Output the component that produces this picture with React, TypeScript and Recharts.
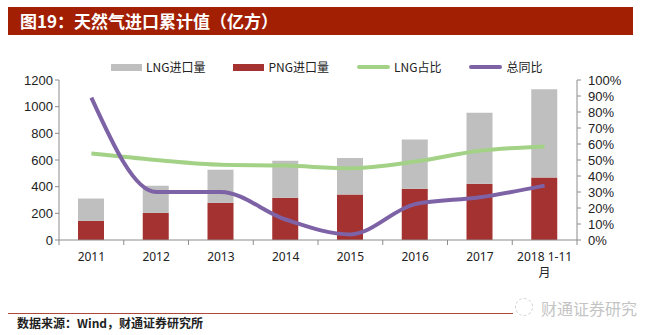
import { ComposedChart, Bar, Line, XAxis, YAxis, Legend } from "recharts";

// values (亿方 and %)
const categories = ["2011", "2012", "2013", "2014", "2015", "2016", "2017", "2018 1-11\n月"];
const lngImport = [168, 204, 248, 279, 274, 369, 532, 661];
const pngImport = [143, 203, 279, 316, 341, 384, 422, 469];
const lngShare = [54, 50, 47, 46.5, 44.8, 49, 55.8, 58.5];
const totalYoy = [89, 30, 30, 12.8, 3.5, 22.4, 26.7, 34];

const leftTicks = [0, 200, 400, 600, 800, 1000, 1200];
const rightTicks = [0, 10, 20, 30, 40, 50, 60, 70, 80, 90, 100];

const GREY = "#bfbfbf";
const RED = "#a33230";
const GREEN = "#a3d287";
const PURPLE = "#7d62a6";
const AXIS = "#8c8c8c";

const PLOT_LEFT = 59;
const PLOT_RIGHT = 577;
const BAND = (PLOT_RIGHT - PLOT_LEFT) / categories.length;

const data = categories.map((c, i) => ({
	name: c,
	lng: lngImport[i],
	png: pngImport[i],
	share: lngShare[i],
	yoy: totalYoy[i],
}));

const legendItems = [
	{ label: "LNG进口量", color: GREY, kind: "bar" },
	{ label: "PNG进口量", color: RED, kind: "bar" },
	{ label: "LNG占比", color: GREEN, kind: "line" },
	{ label: "总同比", color: PURPLE, kind: "line" },
];

function LegendContent() {
	return (
		<div style={{ display: "flex", alignItems: "center", gap: 28, height: 16 }}>
			{legendItems.map((it) => (
				<div key={it.label} style={{ display: "flex", alignItems: "center" }}>
					{it.kind === "bar" ? (
						<div style={{ width: 31, height: 7, background: it.color }} />
					) : (
						<div style={{ width: 33, height: 4, borderRadius: 2, background: it.color }} />
					)}
					<span
						style={{
							marginLeft: 4,
							fontSize: 12,
							lineHeight: "16px",
							color: "#222",
							fontFamily: '"Noto Sans CJK SC", "Noto Sans", sans-serif',
						}}
					>
						{it.label}
					</span>
				</div>
			))}
		</div>
	);
}

function CategoryTick(props: any) {
	const { x, y, payload, index } = props;
	const lines = String(payload.value).split("\n");
	const half = BAND / 2;
	return (
		<g>
			<line x1={x - half} x2={x - half} y1={y} y2={y + 5} stroke={AXIS} />
			{index === categories.length - 1 && (
				<line x1={x + half} x2={x + half} y1={y} y2={y + 5} stroke={AXIS} />
			)}
			{lines.map((l, i) => (
				<text
					key={i}
					x={x}
					y={y + 21 + i * 16}
					textAnchor="middle"
					fontSize={12}
					fill="#222"
					fontFamily='"Noto Sans", "Noto Sans CJK SC", sans-serif'
				>
					{l}
				</text>
			))}
		</g>
	);
}

export default function App() {
	return (
		<div
			style={{
				position: "absolute",
				left: 0,
				top: 0,
				width: 658,
				height: 335,
				background: "#fff",
				overflow: "hidden",
			}}
		>
			<div
				style={{
					position: "absolute",
					left: 8,
					top: 7,
					width: 625,
					height: 28,
					background: "#a21f03",
					color: "#fff",
					fontSize: 17,
					fontWeight: "bold",
					lineHeight: "28px",
					paddingLeft: 12,
					boxSizing: "border-box",
					fontFamily: '"Noto Sans CJK SC", sans-serif',
				}}
			>
				图19：天然气进口累计值（亿方）
			</div>

			<div style={{ position: "absolute", left: 0, top: 0 }}>
				<ComposedChart
					width={658}
					height={300}
					data={data}
					margin={{ top: 80, right: 31, bottom: 20, left: 0 }}
					barSize={26}
				>
					<XAxis
						dataKey="name"
						axisLine={{ stroke: AXIS }}
						tickLine={false}
						tickSize={0}
						tickMargin={0}
						height={40}
						interval={0}
						tick={<CategoryTick />}
					/>
					<YAxis
						yAxisId="left"
						domain={[0, 1200]}
						ticks={leftTicks}
						interval={0}
						width={59}
						axisLine={{ stroke: AXIS }}
						tickLine={{ stroke: AXIS }}
						tickSize={4}
						tickMargin={2}
						tick={{ fontSize: 13, fill: "#222", fontFamily: '"Liberation Sans", Arial, sans-serif' }}
					/>
					<YAxis
						yAxisId="right"
						orientation="right"
						domain={[0, 100]}
						ticks={rightTicks}
						interval={0}
						width={50}
						axisLine={{ stroke: AXIS }}
						tickLine={{ stroke: AXIS }}
						tickSize={4}
						tickMargin={7}
						tickFormatter={(v) => `${v}%`}
						tick={{ fontSize: 13, fill: "#222", fontFamily: '"Liberation Sans", Arial, sans-serif', textAnchor: "start" }}
					/>
					<Legend
						verticalAlign="top"
						content={<LegendContent />}
						wrapperStyle={{ top: 59, left: 111, width: "auto", height: 0, overflow: "visible" }}
					/>
					<Bar yAxisId="left" dataKey="png" stackId="a" fill={RED} isAnimationActive={false} />
					<Bar yAxisId="left" dataKey="lng" stackId="a" fill={GREY} isAnimationActive={false} />
					<Line
						yAxisId="right"
						type="monotone"
						dataKey="share"
						stroke={GREEN}
						strokeWidth={4}
						dot={false}
						isAnimationActive={false}
					/>
					<Line
						yAxisId="right"
						type="monotone"
						dataKey="yoy"
						stroke={PURPLE}
						strokeWidth={4}
						dot={false}
						isAnimationActive={false}
					/>
				</ComposedChart>
			</div>

			<div
				style={{
					position: "absolute",
					left: 8,
					top: 313,
					width: 505,
					height: 1,
					background: "#b0473c",
				}}
			/>
			<div
				style={{
					position: "absolute",
					left: 515,
					top: 298,
					width: 18,
					height: 18,
					borderRadius: 9,
					border: "1px dashed #cfcfcf",
					boxSizing: "border-box",
				}}
			/>
			<div
				style={{
					position: "absolute",
					left: 541,
					top: 298,
					fontSize: 16,
					lineHeight: "20px",
					color: "#c4c4c4",
					fontFamily: '"Noto Sans CJK SC", sans-serif',
				}}
			>
				财通证券研究
			</div>
			<div
				style={{
					position: "absolute",
					left: 17,
					top: 315,
					fontSize: 12,
					lineHeight: "16px",
					fontWeight: "bold",
					color: "#222",
					fontFamily: '"Noto Sans CJK SC", sans-serif',
				}}
			>
				数据来源：Wind，财通证券研究所
			</div>
		</div>
	);
}
